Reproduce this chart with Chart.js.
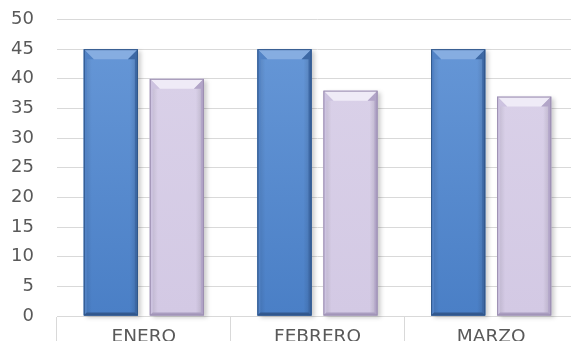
<!DOCTYPE html>
<html>
<head>
<meta charset="utf-8">
<script src="https://cdn.jsdelivr.net/npm/chart.js@4"></script>
<style>
html,body{margin:0;padding:0;background:#fff;overflow:hidden}
#wrap{width:571px;height:341px;overflow:hidden}
</style>
</head>
<body>
<div id="wrap"><canvas id="chart" width="578" height="341"></canvas></div>
<script>
const meses = ["ENERO","FEBRERO","MARZO"]
const serieAzul = [45,45,45]
const serieLila = [40,38,37]
const yMin = 0, yMax = 50, yStep = 5

// bevel look like the office chart
const bevelPlugin = {
id:"bevel",
beforeDatasetsDraw(chart){
const ctx = chart.ctx
chart.data.datasets.forEach((ds,i)=>{
chart.getDatasetMeta(i).data.forEach(bar=>{
const l = bar.x - bar.width/2
ctx.save()
ctx.fillStyle = "rgba(0,0,0,0.2)"
ctx.filter = "blur(2px)"
ctx.fillRect(l+3, bar.y+2, bar.width, bar.base-bar.y)
ctx.restore()
})
})
},
afterDatasetsDraw(chart){
const ctx = chart.ctx
chart.data.datasets.forEach((ds,i)=>{
const c = ds.bevel
chart.getDatasetMeta(i).data.forEach(bar=>{
const l = bar.x - bar.width/2, r = bar.x + bar.width/2
const t = bar.y, b = bar.base
const s = 3, tb = 10
ctx.save()
// body gradient
const gv = ctx.createLinearGradient(0,t,0,b)
gv.addColorStop(0,c.bodyTop)
gv.addColorStop(1,c.bodyBottom)
ctx.fillStyle = gv
ctx.fillRect(l,t,r-l,b-t)
const g = ctx.createLinearGradient(l,0,r,0)
g.addColorStop(0,"rgba(0,0,0,0.12)")
g.addColorStop(0.15,"rgba(0,0,0,0)")
g.addColorStop(0.85,"rgba(0,0,0,0)")
g.addColorStop(1,"rgba(0,0,0,0.15)")
ctx.fillStyle = g
ctx.fillRect(l,t,r-l,b-t)
// top bevel
ctx.beginPath()
ctx.moveTo(l,t);ctx.lineTo(r,t);ctx.lineTo(r-tb,t+tb);ctx.lineTo(l+tb,t+tb);ctx.closePath()
ctx.fillStyle = c.top
ctx.fill()
// left bevel
ctx.beginPath()
ctx.moveTo(l,t);ctx.lineTo(l+tb,t+tb);ctx.lineTo(l+s,t+tb);ctx.lineTo(l+s,b-s);ctx.lineTo(l,b);ctx.closePath()
ctx.fillStyle = c.left
ctx.fill()
// right bevel
ctx.beginPath()
ctx.moveTo(r,t);ctx.lineTo(r-tb,t+tb);ctx.lineTo(r-s,t+tb);ctx.lineTo(r-s,b-s);ctx.lineTo(r,b);ctx.closePath()
ctx.fillStyle = c.right
ctx.fill()
// bottom bevel
ctx.beginPath()
ctx.moveTo(l,b);ctx.lineTo(r,b);ctx.lineTo(r-s,b-s);ctx.lineTo(l+s,b-s);ctx.closePath()
ctx.fillStyle = c.bottom
ctx.fill()
ctx.strokeStyle = c.edge
ctx.lineWidth = 1
ctx.strokeRect(l+0.5,t+0.5,r-l-1,b-t-1)
ctx.restore()
})
})
}
}

new Chart(document.getElementById("chart"),{
type:"bar",
data:{
labels:meses,
datasets:[
{
label:"Serie 1",
data:serieAzul,
backgroundColor:"#5a8bcf",
borderWidth:0,
bevel:{bodyTop:"#6596d6",bodyBottom:"#4a7fc6",top:"#86ade1",left:"#5283c6",right:"#3d68a4",bottom:"#33598f",edge:"#2f5588"}
},
{
label:"Serie 2",
data:serieLila,
backgroundColor:"#d6cde6",
borderWidth:0,
bevel:{bodyTop:"#d9d0e8",bodyBottom:"#d3c9e4",top:"#efebf7",left:"#cdc3e0",right:"#b2a5c8",bottom:"#aa9dc0",edge:"#9a8db0"}
}
]
},
options:{
responsive:false,
devicePixelRatio:1,
animation:false,
categoryPercentage:0.76,
barPercentage:0.82,
layout:{padding:{top:19.5,left:0,right:0,bottom:0}},
plugins:{legend:{display:false},tooltip:{enabled:false}},
scales:{
y:{
min:yMin,max:yMax,
ticks:{stepSize:yStep,color:"#595959",padding:23,font:{family:"DejaVu Sans",size:18}},
grid:{color:"#d9d9d9",drawTicks:false,lineWidth:1},
border:{display:false},
afterFit(axis){axis.width = 57;axis.paddingTop = 0;axis.paddingBottom = 0}
},
x:{
ticks:{color:"#595959",padding:-15,font:{family:"DejaVu Sans",size:18.5}},
grid:{offset:true,drawOnChartArea:false,color:"#d9d9d9",tickLength:25},
border:{display:true,color:"#d9d9d9"},
afterFit(axis){axis.height = 25;axis.paddingLeft = 0;axis.paddingRight = 0}
}
}
},
plugins:[bevelPlugin]
})
</script>
</body>
</html>
